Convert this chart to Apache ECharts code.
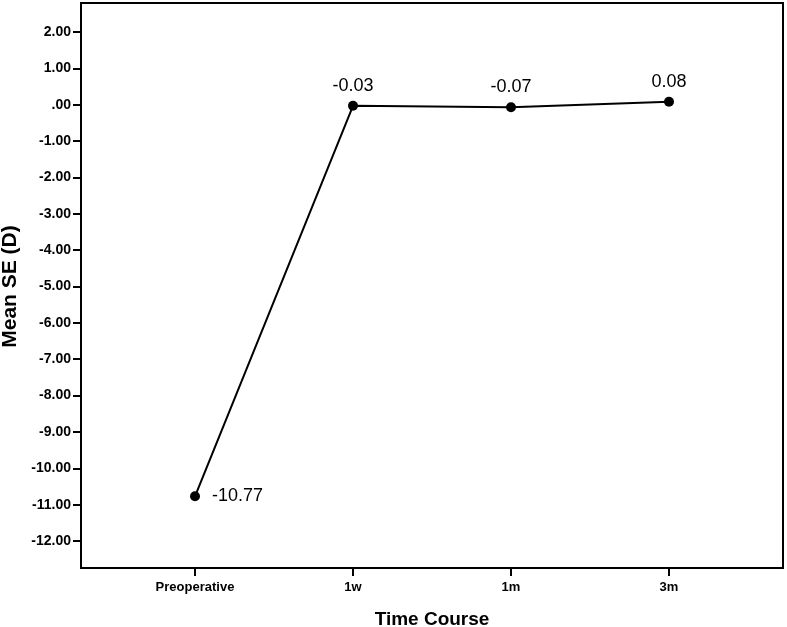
<!DOCTYPE html>
<html>
<head>
<meta charset="utf-8">
<script src="https://cdn.jsdelivr.net/npm/echarts@6/dist/echarts.min.js"></script>
<style>
html, body { margin: 0; padding: 0; background: #fff; }
#main { width: 787px; height: 627px; }
</style>
</head>
<body>
<div id="main"></div>
<script>
const categories = ['Preoperative', '1w', '1m', '3m'];
const meanSE = [-10.77, -0.03, -0.07, 0.08];
const yTicks = { min: -12, max: 2, step: 1 };

const chart = echarts.init(document.getElementById('main'));
const font = 'Liberation Sans, Arial, sans-serif';

const option = {
  animation: false,
  backgroundColor: '#fff',
  grid: [
    // outer frame
    { left: 81, right: 4, top: 3, bottom: 59, show: true, borderColor: '#000', borderWidth: 2,
      backgroundColor: 'transparent', outerBoundsMode: 'none', containLabel: false },
    // data area
    { left: 116, right: 39, top: 32, bottom: 86, outerBoundsMode: 'none', containLabel: false }
  ],
  xAxis: [
    { gridIndex: 0, type: 'value', show: false, min: 0, max: 1 },
    {
      gridIndex: 1,
      type: 'category',
      data: categories,
      boundaryGap: true,
      position: 'bottom',
      offset: 27,
      axisLine: { show: false, onZero: false },
      axisTick: { show: true, alignWithLabel: true, length: 8, lineStyle: { color: '#000', width: 2 } },
      axisLabel: { color: '#000', fontFamily: font, fontWeight: 'bold', fontSize: 13, margin: 13 },
      name: 'Time Course',
      nameLocation: 'middle',
      nameGap: 42,
      nameTextStyle: { color: '#000', fontFamily: font, fontWeight: 'bold', fontSize: 19 }
    }
  ],
  yAxis: [
    { gridIndex: 0, type: 'value', show: false, min: 0, max: 1 },
    {
      gridIndex: 1,
      type: 'value',
      min: yTicks.min,
      max: yTicks.max,
      interval: yTicks.step,
      position: 'left',
      offset: 35,
      splitLine: { show: false },
      axisLine: { show: false, onZero: false },
      axisTick: { show: true, length: 8, lineStyle: { color: '#000', width: 2 } },
      axisLabel: {
        color: '#000', fontFamily: font, fontWeight: 'bold', fontSize: 14, margin: 10,
        formatter: function (v) {
          let s = v.toFixed(2);
          if (s === '0.00' || s === '-0.00') s = '.00';
          return s;
        }
      },
      name: 'Mean SE (D)',
      nameLocation: 'middle',
      nameGap: 59,
      nameTextStyle: { color: '#000', fontFamily: font, fontWeight: 'bold', fontSize: 21 }
    }
  ],
  series: [
    {
      type: 'line',
      xAxisIndex: 1,
      yAxisIndex: 1,
      data: meanSE.map(function (v, i) {
        return {
          value: v,
          label: i === 0 ? { position: 'right', distance: 12 } : { position: 'top', distance: 6 }
        };
      }),
      symbol: 'circle',
      symbolSize: 10,
      itemStyle: { color: '#000' },
      lineStyle: { color: '#000', width: 2 },
      label: {
        show: true,
        color: '#000',
        fontFamily: font,
        fontSize: 18,
        formatter: function (p) { return p.value.toFixed(2); }
      }
    }
  ]
};

chart.setOption(option);
</script>
</body>
</html>
